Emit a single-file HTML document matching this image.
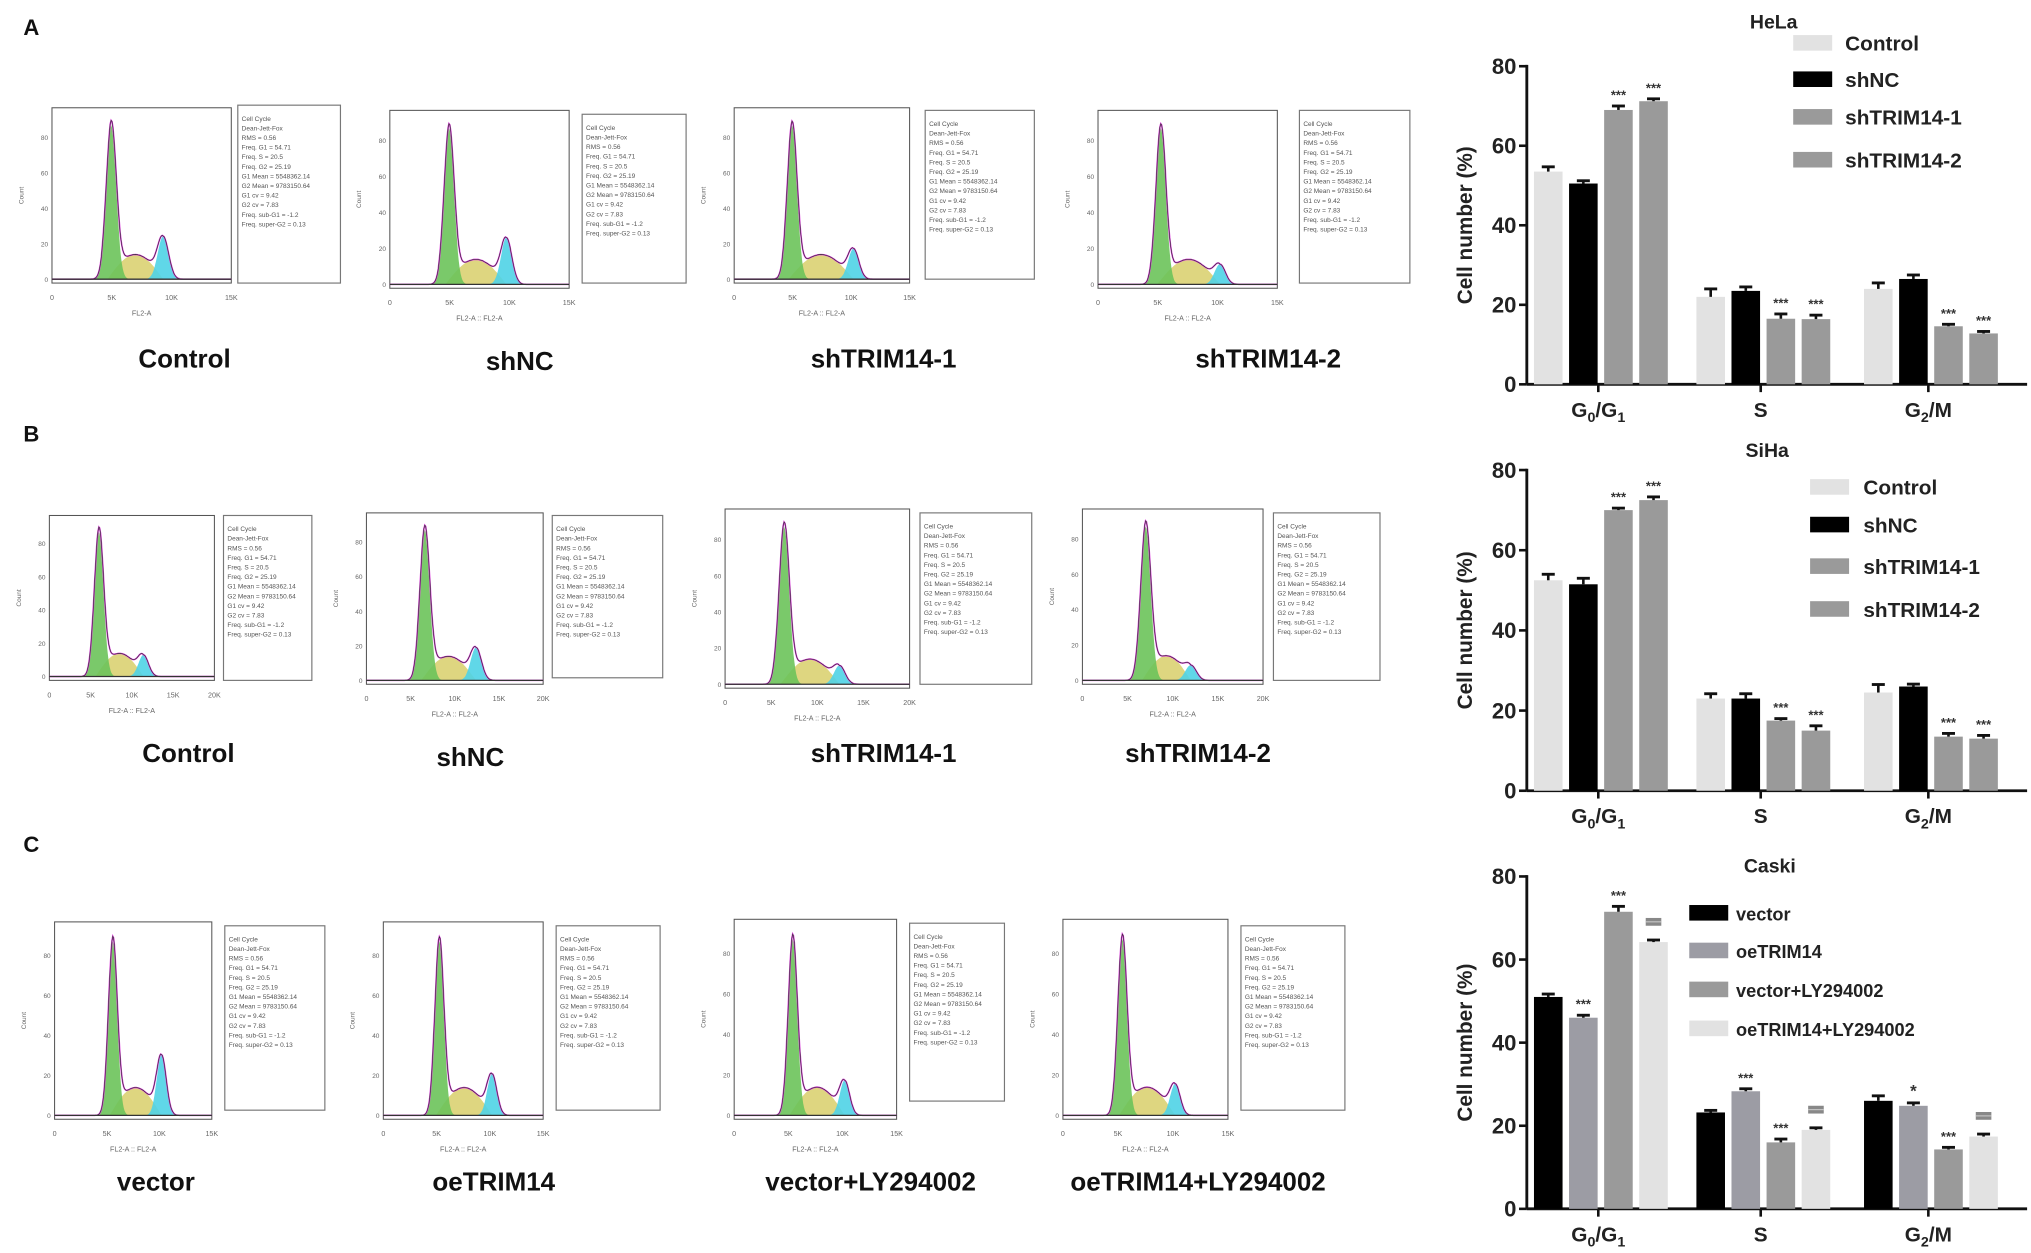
<!DOCTYPE html>
<html><head><meta charset="utf-8"><style>
html,body{margin:0;padding:0;background:#fff;}
svg{display:block;font-family:"Liberation Sans",Arial,sans-serif;}
</style></head><body>
<svg id="fig" width="2031" height="1253" viewBox="0 0 1563 965" preserveAspectRatio="none" xmlns="http://www.w3.org/2000/svg">
<rect width="1563" height="965" fill="#fff"/>
<g id="flow"></g>
<g id="bars"></g>
</svg>
<script>
// ---------- bar chart data ----------
const phaseCategories = ["G0/G1","S","G2/M"];
const yTickLabels = [0,20,40,60,80];
const helaSeriesNames = ["Control","shNC","shTRIM14-1","shTRIM14-2"];
const helaControl = [53.5,22,24];
const helaShNC = [50.5,23.5,26.5];
const helaSh1 = [69,16.5,14.6];
const helaSh2 = [71.2,16.4,12.8];
const helaErr = [[1.2,2,1.5],[0.7,1,1],[1,1.2,0.5],[0.6,1,0.5]];
const helaStars = [["","",""],["","",""],["***","***","***"],["***","***","***"]];
const sihaSeriesNames = ["Control","shNC","shTRIM14-1","shTRIM14-2"];
const sihaControl = [52.5,23,24.5];
const sihaShNC = [51.5,23,26];
const sihaSh1 = [70,17.5,13.5];
const sihaSh2 = [72.5,15,13];
const sihaErr = [[1.5,1.2,2],[1.5,1.2,0.6],[0.5,0.5,0.8],[0.8,1.2,0.8]];
const sihaStars = [["","",""],["","",""],["***","***","***"],["***","***","***"]];
const caskiSeriesNames = ["vector","oeTRIM14","vector+LY294002","oeTRIM14+LY294002"];
const caskiVector = [51,23.2,26];
const caskiOe = [46,28.3,24.8];
const caskiVecLY = [71.5,16,14.3];
const caskiOeLY = [64.2,19,17.4];
const caskiErr = [[0.7,0.5,1.2],[0.6,0.6,0.7],[1.3,0.8,0.5],[0.5,0.5,0.6]];
const caskiStars = [["","",""],["***","***","*"],["***","***","***"],["###","###","###"]];

const NS="http://www.w3.org/2000/svg";
function mk(parent,tag,attrs,text){const e=document.createElementNS(NS,tag);for(const k in attrs)e.setAttribute(k,attrs[k]);if(text!==undefined)e.textContent=text;parent.appendChild(e);return e;}

const barsG=document.getElementById('bars');
function drawChart(name,title,titleX,titleY,y0,y80,series,colors,names,errs,stars,legend){
  const g=mk(barsG,'g',{});
  
  
  const ax=1175, axEnd=1560;
  const ys=v=>y0-(v/80)*(y0-y80);
  const groupX=[1232,1357,1486];
  const xs=(gi,si)=>groupX[gi]+(si-1.5)*27;
  const t=mk(g,'text',{x:titleX,y:titleY,'font-size':15,'font-weight':'bold','text-anchor':'middle',fill:'#222'},title);
  
  
  const ya=mk(g,'line',{x1:ax,y1:y80-1,x2:ax,y2:y0,stroke:'#111','stroke-width':2.2});
  
  
  const xa=mk(g,'line',{x1:ax,y1:y0,x2:axEnd,y2:y0,stroke:'#111','stroke-width':2.2});
  
  
  yTickLabels.forEach(v=>{
    mk(g,'line',{x1:ax-6,y1:ys(v),x2:ax,y2:ys(v),stroke:'#111','stroke-width':2});
    const tl=mk(g,'text',{x:ax-8,y:ys(v)+6,'font-size':17,'font-weight':'bold','text-anchor':'end',fill:'#222'},v);
    
    
  });
  const yt=mk(g,'text',{x:0,y:0,'font-size':16,'font-weight':'bold','text-anchor':'middle',fill:'#222',transform:`translate(1133,${(y0+y80)/2}) rotate(-90)`},'Cell number (%)');
  
  
  phaseCategories.forEach((c,gi)=>{
    mk(g,'line',{x1:groupX[gi]-2,y1:y0,x2:groupX[gi]-2,y2:y0+6,stroke:'#111','stroke-width':2});
    const lab=mk(g,'text',{x:groupX[gi]-2,y:y0+25,'font-size':16,'font-weight':'bold','text-anchor':'middle',fill:'#222'});
    
    
    if(c==="G0/G1"){lab.innerHTML='G<tspan font-size="11" dy="4">0</tspan><tspan dy="-4">/G</tspan><tspan font-size="11" dy="4">1</tspan>';}
    else if(c==="G2/M"){lab.innerHTML='G<tspan font-size="11" dy="4">2</tspan><tspan dy="-4">/M</tspan>';}
    else lab.textContent=c;
  });
  series.forEach((vals,si)=>{
    vals.forEach((v,gi)=>{
      const x=xs(gi,si), w=22, top=ys(v);
      const r=mk(g,'rect',{x:x-w/2,y:top,width:w,height:y0-top,fill:colors[si]});
      
      
      const et=ys(v+errs[si][gi]);
      mk(g,'line',{x1:x,y1:top,x2:x,y2:et,stroke:'#111','stroke-width':2});
      mk(g,'line',{x1:x-5,y1:et,x2:x+5,y2:et,stroke:'#111','stroke-width':2.2});
      const s=stars[si][gi];
      if(s){
        if(s.startsWith('#')){
          const h=mk(g,'rect',{x:x-6,y:et-17,width:12,height:6,fill:'#888'});
          
          
          mk(g,'line',{x1:x-6,y1:et-14,x2:x+6,y2:et-14,stroke:'#ccc','stroke-width':0.8});
        } else {
          const st=mk(g,'text',{x:x,y:et-5,'font-size':s.length>1?10:13,'font-weight':'bold','text-anchor':'middle',fill:'#333'},s);
          
          
        }
      }
    });
  });
  names.forEach((n,i)=>{
    const lg=mk(g,'g',{});
    
    
    mk(lg,'rect',{x:legend.x,y:legend.ys[i]-6,width:30,height:12,fill:colors[i]});
    mk(lg,'text',{x:legend.x+legend.dx,y:legend.ys[i]+6,'font-size':legend.fs,'font-weight':'bold',fill:'#222'},n);
  });
}
drawChart('hela','HeLa',1365,22,296,51,[helaControl,helaShNC,helaSh1,helaSh2],['#e2e2e2','#000','#9a9a9a','#9a9a9a'],helaSeriesNames,helaErr,helaStars,{x:1380,dx:40,ys:[33,61,90,123],fs:16});
drawChart('siha','SiHa',1360,352,609,362,[sihaControl,sihaShNC,sihaSh1,sihaSh2],['#e2e2e2','#000','#9a9a9a','#9a9a9a'],sihaSeriesNames,sihaErr,sihaStars,{x:1393,dx:41,ys:[375,404,436,469],fs:16});
drawChart('caski','Caski',1362,672,931,675,[caskiVector,caskiOe,caskiVecLY,caskiOeLY],['#000','#9c9ca4','#9a9a9a','#e2e2e2'],caskiSeriesNames,caskiErr,caskiStars,{x:1300,dx:36,ys:[703,732,762,792],fs:14});

// ---------- flow cytometry panels ----------
const flowG=document.getElementById('flow');
const panels=[
 {px:40,py:83,pw:138,ph:135,ix:183,iy:81,iw:79,ih:137,g1:0.33,g2:0.62,h2:0.28,lab:'Control',lx:142,ly:283,xmax:'15K',xl:'FL2-A'},
 {px:300,py:85,pw:138,ph:137,ix:448,iy:88,iw:80,ih:130,g1:0.33,g2:0.65,h2:0.3,lab:'shNC',lx:400,ly:285,xmax:'15K',xl:'FL2-A :: FL2-A'},
 {px:565,py:83,pw:135,ph:135,ix:712,iy:85,iw:84,ih:130,g1:0.33,g2:0.68,h2:0.2,lab:'shTRIM14-1',lx:680,ly:283,xmax:'15K',xl:'FL2-A :: FL2-A'},
 {px:845,py:85,pw:138,ph:137,ix:1000,iy:85,iw:85,ih:133,g1:0.35,g2:0.68,h2:0.13,lab:'shTRIM14-2',lx:976,ly:283,xmax:'15K',xl:'FL2-A :: FL2-A'},
 {px:38,py:397,pw:127,ph:127,ix:172,iy:397,iw:68,ih:127,g1:0.3,g2:0.57,h2:0.15,lab:'Control',lx:145,ly:587,xmax:'20K',xl:'FL2-A :: FL2-A'},
 {px:282,py:395,pw:136,ph:132,ix:425,iy:397,iw:85,ih:125,g1:0.33,g2:0.62,h2:0.22,lab:'shNC',lx:362,ly:590,xmax:'20K',xl:'FL2-A :: FL2-A'},
 {px:558,py:392,pw:142,ph:138,ix:708,iy:395,iw:86,ih:132,g1:0.32,g2:0.62,h2:0.12,lab:'shTRIM14-1',lx:680,ly:587,xmax:'20K',xl:'FL2-A :: FL2-A'},
 {px:833,py:392,pw:139,ph:135,ix:980,iy:395,iw:82,ih:129,g1:0.35,g2:0.6,h2:0.1,lab:'shTRIM14-2',lx:922,ly:587,xmax:'20K',xl:'FL2-A :: FL2-A'},
 {px:42,py:710,pw:121,ph:152,ix:173,iy:713,iw:77,ih:142,g1:0.37,g2:0.68,h2:0.35,lab:'vector',lx:120,ly:917,xmax:'15K',xl:'FL2-A :: FL2-A'},
 {px:295,py:710,pw:123,ph:152,ix:428,iy:713,iw:80,ih:142,g1:0.35,g2:0.68,h2:0.24,lab:'oeTRIM14',lx:380,ly:917,xmax:'15K',xl:'FL2-A :: FL2-A'},
 {px:565,py:708,pw:125,ph:154,ix:700,iy:711,iw:73,ih:137,g1:0.36,g2:0.68,h2:0.2,lab:'vector+LY294002',lx:670,ly:917,xmax:'15K',xl:'FL2-A :: FL2-A'},
 {px:818,py:708,pw:127,ph:154,ix:955,iy:713,iw:80,ih:142,g1:0.36,g2:0.68,h2:0.18,lab:'oeTRIM14+LY294002',lx:922,ly:917,xmax:'15K',xl:'FL2-A :: FL2-A'}
];
const infoLines=['Cell Cycle','Dean-Jett-Fox','RMS = 0.56','Freq. G1 = 54.71','Freq. S = 20.5','Freq. G2 = 25.19','G1 Mean = 5548362.14','G2 Mean = 9783150.64','G1 cv = 9.42','G2 cv = 7.83','Freq. sub-G1 = -1.2','Freq. super-G2 = 0.13'];
panels.forEach((p,i)=>{
  const g=mk(flowG,'g',{});
  
  
  const base=p.py+p.ph-3, top=p.py+p.ph*0.1;
  const H=base-top;
  const gx=x=>p.px+x*p.pw;
  const gauss=(x,m,s,h)=>h*Math.exp(-((x-m)*(x-m))/(2*s*s));
  let g1p='',sp='',g2p='',tot='';
  for(let k=0;k<=200;k++){
    const x=k/200;
    const a=gauss(x,p.g1,0.028,1), c=gauss(x,p.g2,0.03,p.h2);
    const sv=(x>p.g1-0.02&&x<p.g2)?0.16*Math.sin(Math.PI*(x-p.g1+0.02)/(p.g2-p.g1+0.02)):0;
    const X=gx(x).toFixed(1);
    g1p+=(k?'L':'M')+X+','+(base-a*H).toFixed(1);
    sp+=(k?'L':'M')+X+','+(base-sv*H).toFixed(1);
    g2p+=(k?'L':'M')+X+','+(base-c*H).toFixed(1);
    tot+=(k?'L':'M')+X+','+(base-(a+c+sv)*H).toFixed(1);
  }
  const close=`L${gx(1)},${base}L${gx(0)},${base}Z`;
  mk(g,'rect',{x:p.px,y:p.py,width:p.pw,height:p.ph,fill:'#fff',stroke:'#555','stroke-width':0.8});
  mk(g,'path',{d:sp+close,fill:'#d8cf6a',opacity:0.85});
  mk(g,'path',{d:g1p+close,fill:'#6cc35a',opacity:0.9});
  mk(g,'path',{d:g2p+close,fill:'#4fd3e6',opacity:0.9});
  mk(g,'path',{d:tot,fill:'none',stroke:'#e040e0','stroke-width':1.2});
  mk(g,'path',{d:tot,fill:'none',stroke:'#333','stroke-width':0.5});
  mk(g,'line',{x1:p.px,y1:base,x2:p.px+p.pw,y2:base,stroke:'#333','stroke-width':1});
  ['0','5K','10K','15K'].concat(p.xmax==='20K'?['20K']:[]).forEach((l,j,arr)=>{
    mk(g,'text',{x:p.px+j*p.pw/(arr.length-1),y:p.py+p.ph+13,'font-size':5.5,'text-anchor':'middle',fill:'#666'},l);
  });
  [0,20,40,60,80].forEach((l,j)=>{
    mk(g,'text',{x:p.px-3,y:base-j*H*0.23+2,'font-size':5,'text-anchor':'end',fill:'#666'},l);
  });
  mk(g,'text',{x:0,y:0,'font-size':5,'text-anchor':'middle',fill:'#666',transform:`translate(${p.px-22},${p.py+p.ph/2}) rotate(-90)`},'Count');
  mk(g,'text',{x:p.px+p.pw/2,y:p.py+p.ph+25,'font-size':5.5,'text-anchor':'middle',fill:'#666'},p.xl);
  const ib=mk(g,'rect',{x:p.ix,y:p.iy,width:p.iw,height:p.ih,fill:'#fff',stroke:'#777','stroke-width':0.9});
  
  
  infoLines.forEach((l,j)=>{
    mk(g,'text',{x:p.ix+3,y:p.iy+12+j*7.4,'font-size':5,fill:'#555'},l);
  });
  const lb=mk(g,'text',{x:p.lx,y:p.ly,'font-size':20,'font-weight':'bold','text-anchor':'middle',fill:'#111'},p.lab);
  
  
});
[['A',20],['B',333],['C',649]].forEach(([t,y])=>{
  const e=mk(flowG,'text',{x:18,y:y+7,'font-size':17,'font-weight':'bold',fill:'#111'},t);
  
  
});
</script>
</body></html>
